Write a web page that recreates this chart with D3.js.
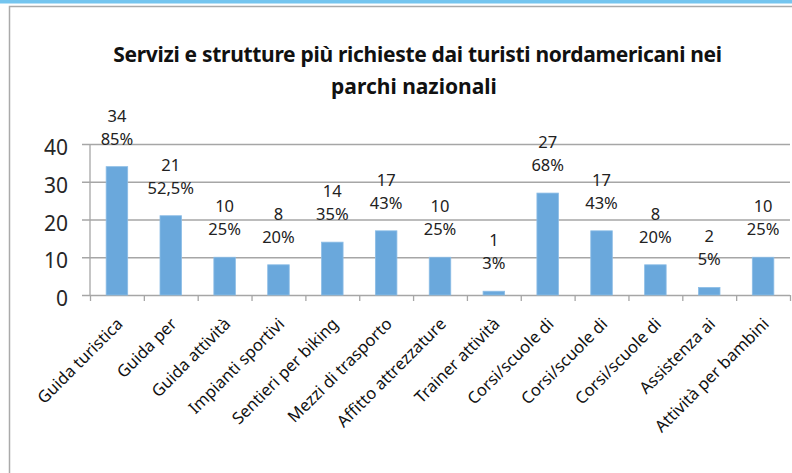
<!DOCTYPE html>
<html>
<head>
<meta charset="utf-8">
<script src="https://cdn.jsdelivr.net/npm/d3@7"></script>
<style>
    body { margin: 0; background: #fff; }
    svg text { font-family: "Noto Sans", "Open Sans", sans-serif; }
</style>
</head>
<body>
<div id="chart"></div>
<script>
const categories = [
    "Guida turistica", "Guida per", "Guida attività", "Impianti sportivi",
    "Sentieri per biking", "Mezzi di trasporto", "Affitto attrezzature",
    "Trainer attività", "Corsi/scuole di", "Corsi/scuole di ", "Corsi/scuole di  ",
    "Assistenza ai", "Attività per bambini"
]
const counts = [34, 21, 10, 8, 14, 17, 10, 1, 27, 17, 8, 2, 10]
const percents = ["85%", "52,5%", "25%", "20%", "35%", "43%", "25%", "3%", "68%", "43%", "20%", "5%", "25%"]
const yTicks = [0, 10, 20, 30, 40]
const titleLines = ["Servizi e strutture più richieste dai turisti nordamericani nei", "parchi nazionali"]

let svgWidth = 792
let svgHeight = 473
let plot = { left: 90, right: 790, top: 144, bottom: 295 }

let svg = d3.select('#chart').append('svg')
    .attr('width', svgWidth)
    .attr('height', svgHeight)

// slide decoration + frame
svg.append('rect')
    .attr('x', 0).attr('y', 0)
    .attr('width', svgWidth).attr('height', 3.5)
    .attr('fill', '#74c5ef')
svg.append('rect')
    .attr('x', 9.5).attr('y', 6.5)
    .attr('width', 820).attr('height', 520)
    .attr('fill', 'none')
    .attr('stroke', '#aaaaaa')
    .attr('stroke-width', 1.5)

// title - tighten letter spacing so the first line spans ~609px like the original
let titleWidths = [609, 166]
svg.append('g')
    .selectAll('text')
    .data(titleLines)
    .enter()
    .append('text')
    .attr('x', (d, i) => i == 0 ? 417.5 : 414)
    .attr('y', (d, i) => 62 + i * 32)
    .attr('text-anchor', 'middle')
    .attr('font-size', '21px')
    .attr('font-weight', 'bold')
    .attr('fill', '#111')
    .text(d => d)
    .each(function(d, i) {
        let w = this.getComputedTextLength()
        let ls = (titleWidths[i] - w) / (d.length - 1)
        d3.select(this).style('letter-spacing', Math.min(0, ls) + 'px')
    })

let x = d3.scaleBand()
    .domain(categories)
    .range([plot.left, plot.right])
    .paddingInner(0.6)
    .paddingOuter(0.3)

let tickX = d3.scaleLinear()
    .domain([0, categories.length])
    .range([plot.left, plot.right])

let y = d3.scaleLinear()
    .domain([0, 40])
    .range([plot.bottom, plot.top])

// gridlines + y labels
let axis_y = d3.axisLeft()
    .scale(y)
    .tickValues(yTicks)
    .tickSize(plot.right - 82)
    .tickPadding(14)
    .tickFormat(d => d)

let gy = svg.append('g')
    .attr('transform', `translate(${plot.right}, 0)`)
    .call(axis_y)
gy.select('.domain').remove()
gy.selectAll('line')
    .attr('stroke', '#a6a6a6')
    .attr('stroke-width', 1.3)
gy.selectAll('text')
    .attr('font-size', '21px')
    .attr('fill', '#262626')
    .attr('dy', '0.36em')
    .attr('transform', 'translate(0, 3)')

// y axis line
svg.append('line')
    .attr('x1', plot.left).attr('x2', plot.left)
    .attr('y1', y(40)).attr('y2', y(0))
    .attr('stroke', '#a6a6a6')
    .attr('stroke-width', 1.3)

// category ticks
let axis_x = d3.axisBottom()
    .scale(tickX)
    .tickValues(d3.range(categories.length + 1))
    .tickSize(6)
    .tickSizeOuter(0)
    .tickFormat('')
let gx = svg.append('g')
    .attr('transform', `translate(0, ${plot.bottom})`)
    .call(axis_x)
gx.select('.domain').remove()
gx.selectAll('line')
    .attr('stroke', '#a6a6a6')
    .attr('stroke-width', 1.3)

// bars
svg.append('g')
    .selectAll('rect')
    .data(counts)
    .enter()
    .append('rect')
    .attr('x', (d, i) => x(categories[i]))
    .attr('y', d => y(d))
    .attr('width', x.bandwidth())
    .attr('height', d => y(0) - y(d))
    .attr('fill', '#6aa8dc')
    .attr('stroke', '#8cbde6')
    .attr('stroke-width', 0.8)

// data labels
let labels = svg.append('g')
    .selectAll('g')
    .data(counts)
    .enter()
    .append('g')
    .attr('transform', (d, i) => `translate(${x(categories[i]) + x.bandwidth() / 2}, ${y(d)})`)
labels.append('text')
    .attr('y', -45)
    .attr('text-anchor', 'middle')
    .attr('font-size', '16.5px')
    .attr('fill', '#222')
    .text(d => d)
labels.append('text')
    .attr('y', -22)
    .attr('text-anchor', 'middle')
    .attr('font-size', '16.5px')
    .attr('fill', '#222')
    .text((d, i) => percents[i])

// category labels
svg.append('g')
    .selectAll('text')
    .data(categories)
    .enter()
    .append('text')
    .attr('transform', d => `translate(${x(d) + x.bandwidth() / 2 + 7}, 325) rotate(-45)`)
    .attr('text-anchor', 'end')
    .attr('font-size', '16.5px')
    .attr('fill', '#111')
    .text(d => d.trim())
</script>
</body>
</html>
